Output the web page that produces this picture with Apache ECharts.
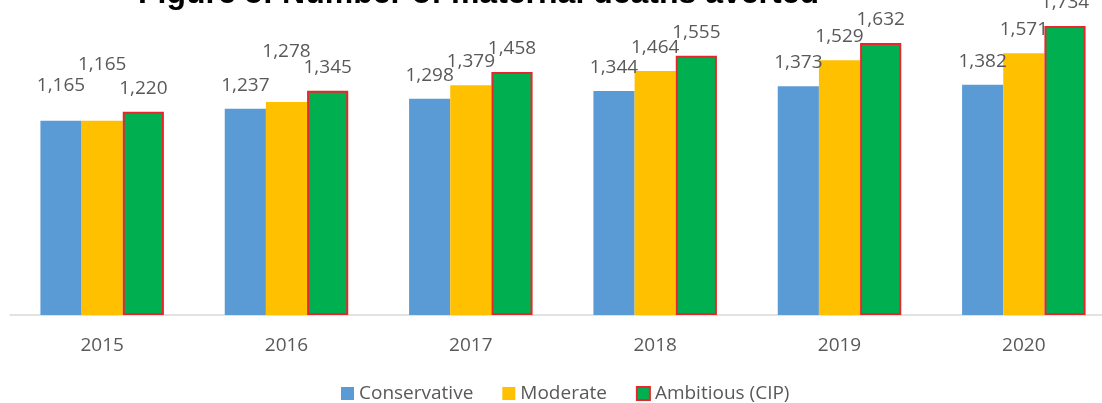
<!DOCTYPE html>
<html>
<head>
<meta charset="utf-8">
<script src="https://cdn.jsdelivr.net/npm/echarts@6/dist/echarts.min.js"></script>
<style>
  html, body { margin: 0; padding: 0; background: #fff; }
  #main { width: 1102px; height: 403px; }
</style>
</head>
<body>
<div id="main"></div>
<script>
// data
const years = ['2015', '2016', '2017', '2018', '2019', '2020'];
const conservative = [1165, 1237, 1298, 1344, 1373, 1382];
const moderate = [1165, 1278, 1379, 1464, 1529, 1571];
const ambitious = [1220, 1345, 1458, 1555, 1632, 1734];

const textGray = '#595959';
const labelFont = 'Open Sans';

// a few labels were dragged higher in the original
const extraLift = {
    Conservative: {0: 12},
    Moderate: {0: 33, 1: 27}
};

function withLabels(name, values) {
    return values.map((v, i) => {
        const lift = (extraLift[name] || {})[i];
        if (!lift) return v;
        return { value: v, label: { distance: 14 + lift } };
    });
}

let chart = echarts.init(document.getElementById('main'));

let option = {
    animation: false,
    title: {
        text: 'Figure 5: Number of maternal deaths averted',
        left: 138,
        top: -22,
        padding: 0,
        textStyle: {
            fontFamily: 'Liberation Sans',
            fontWeight: 'bold',
            fontSize: 32,
            color: '#000'
        }
    },
    legend: {
        left: 336,
        top: 379,
        itemWidth: 13,
        itemHeight: 13,
        itemGap: 29,
        icon: 'rect',
        textStyle: {
            fontFamily: labelFont,
            fontSize: 19,
            color: textGray
        },
        data: ['Conservative', 'Moderate', 'Ambitious (CIP)']
    },
    grid: {
        left: 10,
        top: 15,
        width: 1106,
        height: 300,
        outerBoundsMode: 'none',
        containLabel: false
    },
    xAxis: {
        type: 'category',
        data: years,
        axisLine: { lineStyle: { color: '#d9d9d9', width: 1.5 } },
        axisTick: { show: false },
        axisLabel: {
            margin: 21,
            fontFamily: labelFont,
            fontSize: 19,
            color: textGray
        }
    },
    yAxis: {
        type: 'value',
        min: 0,
        max: 1800,
        show: false,
        splitLine: { show: false }
    },
    series: [
        {
            name: 'Conservative',
            type: 'bar',
            barGap: '0%',
            barCategoryGap: '33%',
            itemStyle: { color: '#5b9bd5' },
            data: withLabels('Conservative', conservative)
        },
        {
            name: 'Moderate',
            type: 'bar',
            itemStyle: { color: '#ffc000' },
            data: withLabels('Moderate', moderate)
        },
        {
            name: 'Ambitious (CIP)',
            type: 'bar',
            itemStyle: { color: '#00b050', borderColor: '#e8262b', borderWidth: 2 },
            data: withLabels('Ambitious (CIP)', ambitious)
        }
    ]
};

// shared label style for every series
option.series.forEach(s => {
    s.label = {
        show: true,
        position: 'top',
        distance: 14,
        fontFamily: labelFont,
        fontSize: 19,
        color: textGray,
        formatter: p => p.value.toLocaleString('en-US')
    };
});

chart.setOption(option);
</script>
</body>
</html>
